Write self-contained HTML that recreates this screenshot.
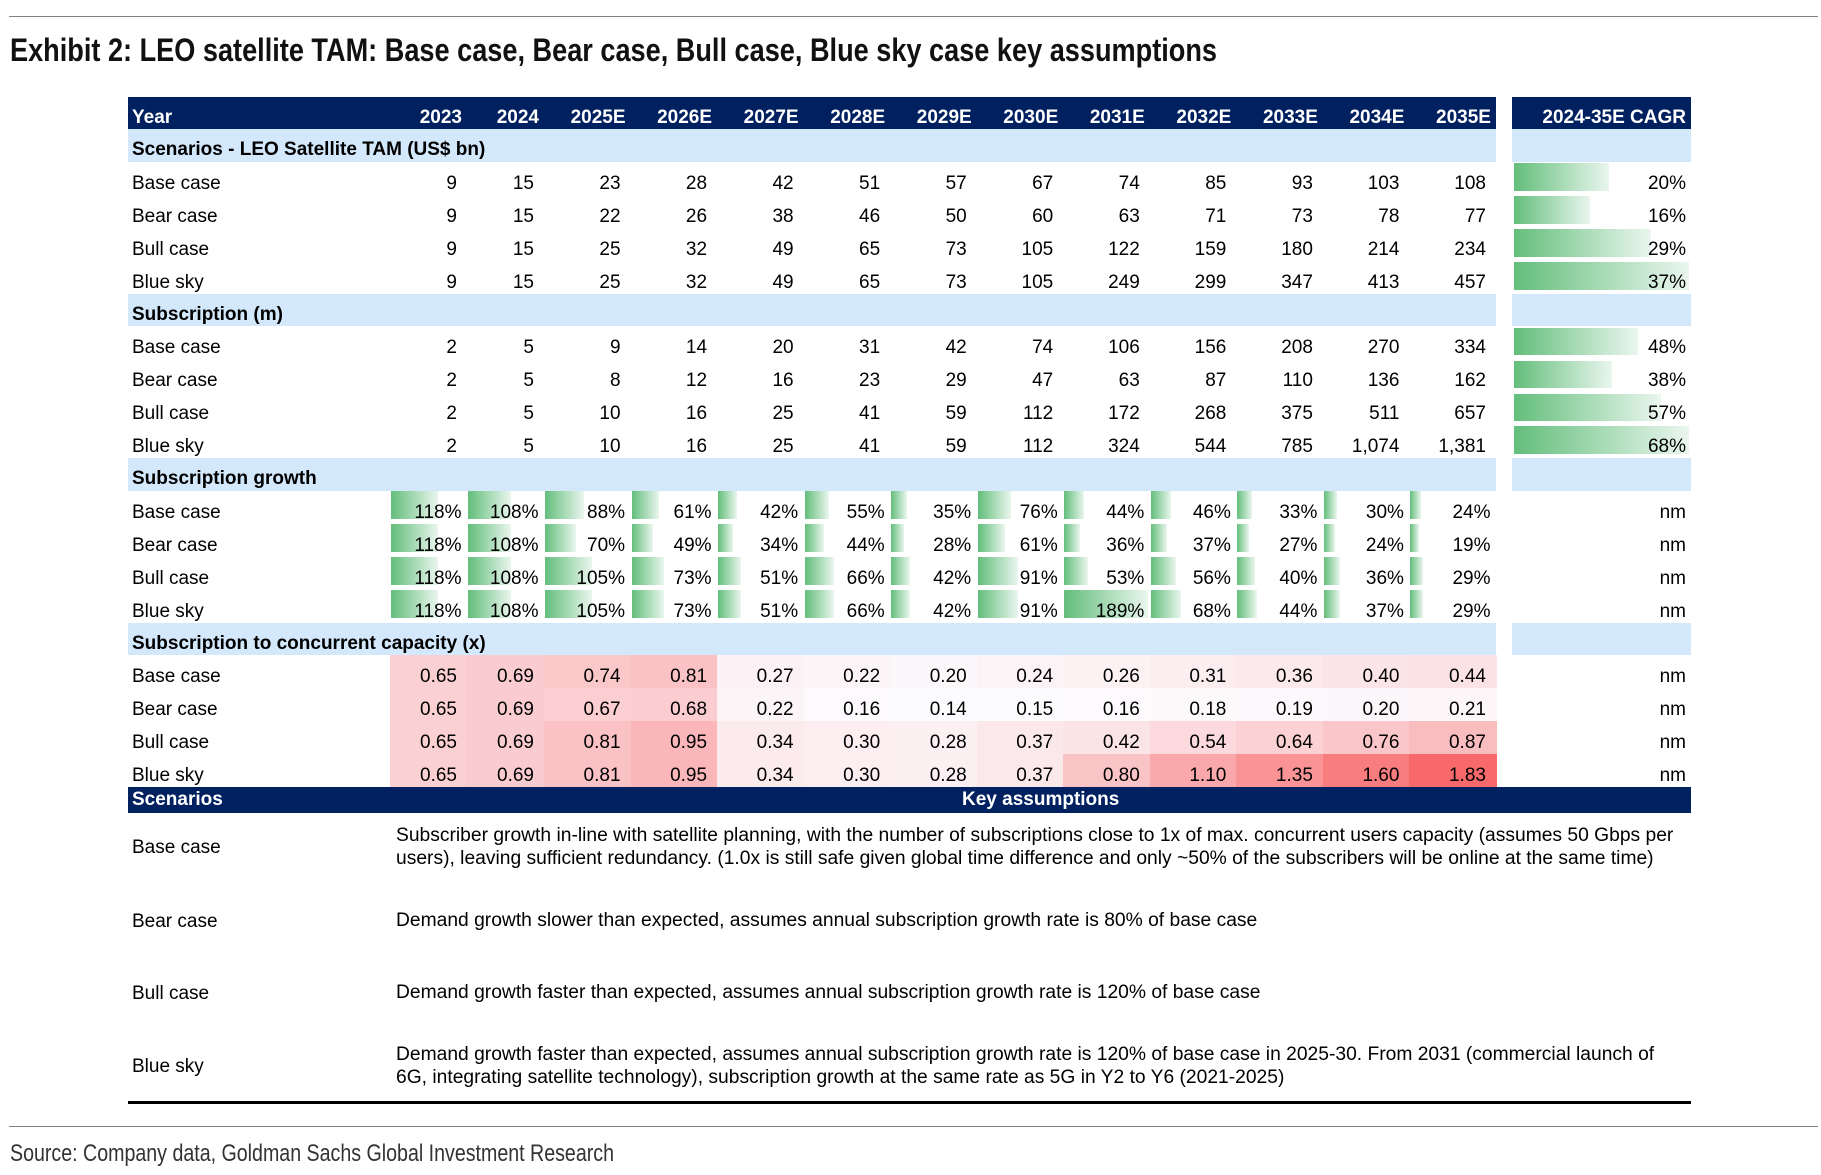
<!DOCTYPE html>
<html><head><meta charset="utf-8">
<style>
html,body{margin:0;padding:0;background:#fff;}
#root{position:relative;width:1821px;height:1175px;overflow:hidden;font-family:"Liberation Sans",Arial,sans-serif;font-size:19px;color:#000;}
.abs{position:absolute;white-space:nowrap;}
.cell{position:absolute;height:33px;line-height:33px;white-space:nowrap;}
.txt{position:relative;top:5px;}
</style></head>
<body>
<div id="root">
  <div class="abs" style="left:9px;top:16px;width:1809px;height:0;border-top:1.5px solid #808080"></div>
  <div class="abs" id="title" style="left:10px;top:30px;font-size:32px;font-weight:bold;line-height:40px;color:#111;transform-origin:0 0">Exhibit 2: LEO satellite TAM: Base case, Bear case, Bull case, Blue sky case key assumptions</div>
  <div id="tbl"></div>
  <div class="abs" style="left:128px;top:1101px;width:1563px;height:3px;background:#000"></div>
  <div class="abs" style="left:9px;top:1126px;width:1809px;height:0;border-top:1.5px solid #808080"></div>
  <div class="abs" id="source" style="left:10px;top:1140px;font-size:24px;line-height:28px;color:#333;transform-origin:0 0">Source: Company data, Goldman Sachs Global Investment Research</div>
</div>
<script>
const years = ["2023","2024","2025E","2026E","2027E","2028E","2029E","2030E","2031E","2032E","2033E","2034E","2035E"];
const scenarios = ["Base case","Bear case","Bull case","Blue sky"];
const tamBase = [9,15,23,28,42,51,57,67,74,85,93,103,108];
const tamBear = [9,15,22,26,38,46,50,60,63,71,73,78,77];
const tamBull = [9,15,25,32,49,65,73,105,122,159,180,214,234];
const tamBlue = [9,15,25,32,49,65,73,105,249,299,347,413,457];
const tamCagr = [20,16,29,37];
const subBase = [2,5,9,14,20,31,42,74,106,156,208,270,334];
const subBear = [2,5,8,12,16,23,29,47,63,87,110,136,162];
const subBull = [2,5,10,16,25,41,59,112,172,268,375,511,657];
const subBlue = [2,5,10,16,25,41,59,112,324,544,785,1074,1381];
const subCagr = [48,38,57,68];
const grBase = [118,108,88,61,42,55,35,76,44,46,33,30,24];
const grBear = [118,108,70,49,34,44,28,61,36,37,27,24,19];
const grBull = [118,108,105,73,51,66,42,91,53,56,40,36,29];
const grBlue = [118,108,105,73,51,66,42,91,189,68,44,37,29];
const capBase = [0.65,0.69,0.74,0.81,0.27,0.22,0.20,0.24,0.26,0.31,0.36,0.40,0.44];
const capBear = [0.65,0.69,0.67,0.68,0.22,0.16,0.14,0.15,0.16,0.18,0.19,0.20,0.21];
const capBull = [0.65,0.69,0.81,0.95,0.34,0.30,0.28,0.37,0.42,0.54,0.64,0.76,0.87];
const capBlue = [0.65,0.69,0.81,0.95,0.34,0.30,0.28,0.37,0.80,1.10,1.35,1.60,1.83];
const assumptions = [
 ["Subscriber growth in-line with satellite planning, with the number of subscriptions close to 1x of max. concurrent users capacity (assumes 50 Gbps per","users), leaving sufficient redundancy. (1.0x is still safe given global time difference and only ~50% of the subscribers will be online at the same time)"],
 ["Demand growth slower than expected, assumes annual subscription growth rate is 80% of base case"],
 ["Demand growth faster than expected, assumes annual subscription growth rate is 120% of base case"],
 ["Demand growth faster than expected, assumes annual subscription growth rate is 120% of base case in 2025-30. From 2031 (commercial launch of","6G, integrating satellite technology), subscription growth at the same rate as 5G in Y2 to Y6 (2021-2025)"]
];

const NAVY="#002060", LBLUE="#D4E8FC";
const L=128, MAINR=1496, CL=1512, CR=1691, HTOP=97, RH=32.9, R0=129;
function colX(i){return i===0?390:(i===1?467:544+(i-2)*86.545);}
function colW(i){return i<2?77:86.545;}
function rowY(r){return R0+r*RH;}
const tbl=document.getElementById('tbl');
function box(x,y,w,h,bg){const d=document.createElement('div');d.className='abs';d.style.cssText=`left:${x}px;top:${y}px;width:${w}px;height:${h}px;background:${bg}`;tbl.appendChild(d);return d;}
function text(x,y,w,str,align,opts){const d=document.createElement('div');d.className='cell';d.style.left=x+'px';d.style.top=y+'px';d.style.width=w+'px';d.style.textAlign=align;if(opts&&opts.pr)d.style.paddingRight=opts.pr+'px';if(opts&&opts.bold)d.style.fontWeight='bold';if(opts&&opts.color)d.style.color=opts.color;d.style.boxSizing='border-box';const s=document.createElement('span');s.className='txt';s.textContent=str;d.appendChild(s);tbl.appendChild(d);return d;}
function fmt(n){return n.toLocaleString('en-US');}

let h=box(L,HTOP,MAINR-L,32,NAVY);


h=box(CL,HTOP,CR-CL,32,NAVY);


let t=text(132,HTOP-1,200,"Year",'left',{bold:1,color:'#fff'});


years.forEach((y,i)=>{const e=text(colX(i),HTOP-1,colW(i),y,'right',{bold:1,color:'#fff',pr:5});

});
t=text(CL,HTOP-1,CR-CL,"2024-35E CAGR",'right',{bold:1,color:'#fff',pr:5});



function section(r,label,name){
  const y=rowY(r);
  const b=box(L,y,MAINR-L,RH,LBLUE);
  
  
  const c=box(CL,y,CR-CL,RH,LBLUE);
  
  
  const e=text(132,y-1,800,label,'left',{bold:1});
  
  
}
function label(r,s){const e=text(132,rowY(r),250,s,'left');

}
function cagrBar(r,v,max,name){
  const y=rowY(r);
  const w=v/max*175;
  const b=box(1514,y+1.3,w,27.7,'linear-gradient(to right,#63BE7B,#eaf6ee)');
  
  
  const e=text(CL,y,CR-CL,v+'%','right',{pr:5});
  
  
}
function nm(r){const e=text(CL,rowY(r),CR-CL,'nm','right',{pr:5});

}

section(0,"Scenarios - LEO Satellite TAM (US$ bn)","tam");
[tamBase,tamBear,tamBull,tamBlue].forEach((arr,k)=>{const r=1+k;label(r,scenarios[k]);
  arr.forEach((v,i)=>{const e=text(colX(i),rowY(r),colW(i),fmt(v),'right',{pr:10});
  
  });
  cagrBar(r,tamCagr[k],Math.max(...tamCagr),'tam');});
section(5,"Subscription (m)","subscription");
[subBase,subBear,subBull,subBlue].forEach((arr,k)=>{const r=6+k;label(r,scenarios[k]);
  arr.forEach((v,i)=>{const e=text(colX(i),rowY(r),colW(i),fmt(v),'right',{pr:10});
  
  });
  cagrBar(r,subCagr[k],Math.max(...subCagr),'subscription');});
section(10,"Subscription growth","growth");
const grAll=[grBase,grBear,grBull,grBlue];
const grMax=Math.max(...grAll.flat());
grAll.forEach((arr,k)=>{const r=11+k;label(r,scenarios[k]);
  arr.forEach((v,i)=>{
    const w=v/grMax*0.97*colW(i);
    const b=box(colX(i)+1,rowY(r)+0.5,w,27.7,'linear-gradient(to right,#63BE7B,#eaf6ee)');
    
    
    const e=text(colX(i),rowY(r),colW(i),v+'%','right',{pr:5.5});
    
    });
  nm(r);});
section(15,"Subscription to concurrent capacity (x)","capacity");
const capAll=[capBase,capBear,capBull,capBlue];
const cMin=Math.min(...capAll.flat()), cMax=Math.max(...capAll.flat());
function heat(v){const t=(v-cMin)/(cMax-cMin);const a=[252,252,255],b=[248,105,107];
  return `rgb(${a.map((c,j)=>Math.round(c+(b[j]-c)*t)).join(',')})`;}
capAll.forEach((arr,k)=>{const r=16+k;label(r,scenarios[k]);
  arr.forEach((v,i)=>{
    const b=box(colX(i),rowY(r),colW(i)+0.6,RH+0.4,heat(v));
    
    
    const e=text(colX(i),rowY(r),colW(i),v.toFixed(2),'right',{pr:10});
    
    });
  nm(r);});

const sb=box(L,787,CR-L,26,NAVY);


function plain(x,y,s,opts){const d=document.createElement('div');d.className='abs';d.style.cssText=`left:${x}px;top:${y}px;line-height:24px;`+(opts||'');d.textContent=s;tbl.appendChild(d);return d;}
let e=plain(132,788,"Scenarios","color:#fff;font-weight:bold");


e=plain(962,788,"Key assumptions","color:#fff;font-weight:bold");


const centers=[848,922,994,1067];
assumptions.forEach((lines,k)=>{
  const c=centers[k];
  const lb=plain(132,c-12,scenarios[k]);
  
  
  const top=c-12-(lines.length-1)*11.5;
  lines.forEach((ln,j)=>{const d=plain(396,top+j*23.5-1,ln,"transform:scaleX(1.013);transform-origin:0 0;");
    
    });
});

function fit(id,w){const el=document.getElementById(id);const cur=el.getBoundingClientRect().width;el.style.transform=`scaleX(${w/cur})`;}
fit('title',1207);
fit('source',604);
</script>
</body></html>
